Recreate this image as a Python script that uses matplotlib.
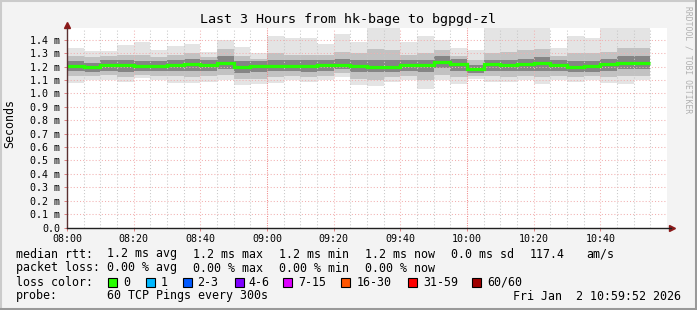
import matplotlib
matplotlib.use("Agg")
import matplotlib.pyplot as plt
from matplotlib.lines import Line2D
from matplotlib.patches import Rectangle
import numpy as np

# 5 minute bins starting 08:00 (x in minutes after 08:00)
bin_start = np.arange(0, 175, 5)
bin_width = 5

median = [1.207, 1.200, 1.215, 1.215, 1.207, 1.207, 1.215, 1.222, 1.215, 1.230, 1.200, 1.207,
          1.207, 1.207, 1.207, 1.215, 1.215, 1.207, 1.200, 1.200, 1.215, 1.215, 1.237, 1.222,
          1.185, 1.222, 1.215, 1.222, 1.230, 1.215, 1.200, 1.207, 1.222, 1.230, 1.230]
ping_max = [1.34, 1.318, 1.318, 1.362, 1.38, 1.325, 1.355, 1.37, 1.307, 1.40, 1.348, 1.302,
            1.425, 1.413, 1.413, 1.37, 1.445, 1.38, 1.55, 1.55, 1.385, 1.43, 1.40, 1.337,
            1.32, 1.55, 1.55, 1.55, 1.55, 1.342, 1.43, 1.413, 1.55, 1.55, 1.55]
ping_min = [1.08, 1.10, 1.10, 1.088, 1.112, 1.10, 1.08, 1.08, 1.088, 1.10, 1.062, 1.07,
            1.08, 1.10, 1.088, 1.10, 1.125, 1.062, 1.055, 1.088, 1.10, 1.03, 1.10, 1.07,
            1.11, 1.088, 1.088, 1.10, 1.07, 1.10, 1.088, 1.10, 1.08, 1.07, 1.10]
p90 = [1.28, 1.27, 1.28, 1.29, 1.29, 1.27, 1.29, 1.30, 1.27, 1.33, 1.28, 1.26,
       1.30, 1.29, 1.29, 1.29, 1.31, 1.30, 1.33, 1.32, 1.29, 1.30, 1.32, 1.28,
       1.25, 1.30, 1.31, 1.32, 1.33, 1.28, 1.30, 1.30, 1.31, 1.34, 1.34]
p75 = [1.24, 1.23, 1.25, 1.25, 1.24, 1.24, 1.25, 1.26, 1.25, 1.28, 1.24, 1.24,
       1.25, 1.25, 1.25, 1.25, 1.26, 1.25, 1.25, 1.25, 1.25, 1.25, 1.28, 1.26,
       1.21, 1.25, 1.25, 1.26, 1.27, 1.25, 1.24, 1.24, 1.26, 1.28, 1.28]
p25 = [1.17, 1.16, 1.17, 1.16, 1.17, 1.17, 1.17, 1.17, 1.17, 1.18, 1.15, 1.16,
       1.17, 1.17, 1.16, 1.17, 1.18, 1.16, 1.16, 1.16, 1.17, 1.16, 1.19, 1.17,
       1.15, 1.17, 1.17, 1.17, 1.17, 1.17, 1.16, 1.16, 1.17, 1.18, 1.18]
p10 = [1.13, 1.13, 1.14, 1.12, 1.14, 1.13, 1.13, 1.12, 1.13, 1.14, 1.11, 1.11,
       1.12, 1.13, 1.12, 1.13, 1.15, 1.11, 1.10, 1.12, 1.13, 1.10, 1.14, 1.12,
       1.13, 1.13, 1.12, 1.13, 1.12, 1.13, 1.12, 1.13, 1.12, 1.13, 1.13]

x_ticks = [0, 20, 40, 60, 80, 100, 120, 140, 160]
x_labels = ["08:00", "08:20", "08:40", "09:00", "09:20", "09:40", "10:00", "10:20", "10:40"]
y_ticks = [0.0, 0.1, 0.2, 0.3, 0.4, 0.5, 0.6, 0.7, 0.8, 0.9, 1.0, 1.1, 1.2, 1.3, 1.4]
y_labels = ["0.0"] + ["%.1f m" % v for v in y_ticks[1:]]

loss_labels = ["0", "1", "2-3", "4-6", "7-15", "16-30", "31-59", "60/60"]
loss_colors = ["#26ff00", "#00b8ff", "#0059ff", "#7e00ff", "#dd00ff", "#ff5500", "#ff0000", "#a00000"]
loss_box_x = [108, 146, 183, 235, 283, 341, 408, 472]
loss_text_x = [123, 161, 197, 248, 298, 357, 423, 487]

W, H = 697, 310
BG = "#f3f3f3"
MONO = "DejaVu Sans Mono"

fig = plt.figure(figsize=(W / 100, H / 100), dpi=100, facecolor=BG)
L, R, T, B = 67, 667, 27.7, 227.5
ax = fig.add_axes([L / W, 1 - B / H, (R - L) / W, (B - T) / H])
ax.set_facecolor("white")
ax.set_xlim(0, 180)
ax.set_ylim(0, 1.49)

# smoke bands (outer -> inner)
ax.bar(bin_start, np.array(ping_max) - np.array(ping_min), bottom=ping_min, width=bin_width,
       align="edge", color="#e4e4e4", linewidth=0, zorder=2)
ax.bar(bin_start, np.array(p90) - np.array(p10), bottom=p10, width=bin_width,
       align="edge", color="#c2c2c2", linewidth=0, zorder=2)
ax.bar(bin_start, np.array(p75) - np.array(p25), bottom=p25, width=bin_width,
       align="edge", color="#858585", linewidth=0, zorder=2)
ax.stairs(median, np.append(bin_start, bin_start[-1] + bin_width), baseline=None,
          color="#26ff00", linewidth=2.3, zorder=4)

# grid
for m in range(5, 180, 5):
    if m % 20:
        ax.axvline(m, color="#c8c8c8", lw=0.75, ls=(0, (1, 2)), zorder=3)
for m in x_ticks[1:]:
    strong = m % 60 == 0
    ax.axvline(m, color="#f08a8a" if strong else "#f2b4b4", lw=0.75,
               ls=(0, (1, 1.2)) if strong else (0, (1, 2)), zorder=3)
for v in y_ticks[1:]:
    ax.axhline(v, color="#f2b0b0", lw=0.75, ls=(0, (1, 2)), zorder=3)

for s in ax.spines.values():
    s.set_visible(False)
ax.set_xticks(x_ticks)
ax.set_xticklabels(x_labels, family=MONO, fontsize=7.2)
ax.set_yticks(y_ticks)
ax.set_yticklabels(y_labels, family=MONO, fontsize=7.2)
ax.tick_params(length=2, width=0.7, color="#e08080", pad=3)

# axes with arrows
ax.plot([0, 0], [0, 1.0], transform=ax.transAxes, color="#5a3030", lw=1.0, clip_on=False, zorder=5)
ax.plot([0, 1.006], [0, 0], transform=ax.transAxes, color="#202020", lw=1.0, clip_on=False, zorder=5)
ax.plot([0], [1.015], transform=ax.transAxes, marker="^", ms=4.5, color="#8b1a1a", clip_on=False)
ax.plot([1.008], [0], transform=ax.transAxes, marker=">", ms=4.5, color="#8b1a1a", clip_on=False)

def ftext(x, y, s, **kw):
    kw.setdefault("family", MONO)
    kw.setdefault("fontsize", 8.4)
    kw.setdefault("va", "center")
    fig.text(x / W, 1 - y / H, s, **kw)

ftext(348, 19, "Last 3 Hours from hk-bage to bgpgd-zl", fontsize=9.6, ha="center")
ftext(10, 123, "Seconds", rotation=90, ha="center")
ftext(688, 60, "RRDTOOL / TOBI OETIKER", rotation=270, ha="center", fontsize=5.8, color="#b0b0b0")

row1 = [(16, "median rtt:"), (107, "1.2 ms avg"), (193, "1.2 ms max"), (279, "1.2 ms min"),
        (365, "1.2 ms now"), (451, "0.0 ms sd"), (530, "117.4"), (586, "am/s")]
row2 = [(16, "packet loss:"), (107, "0.00 % avg"), (193, "0.00 % max"),
        (279, "0.00 % min"), (365, "0.00 % now")]
for x, s in row1:
    ftext(x, 254, s)
for x, s in row2:
    ftext(x, 268, s)
ftext(16, 282, "loss color:")
for bx, tx, lab, col in zip(loss_box_x, loss_text_x, loss_labels, loss_colors):
    fig.add_artist(Rectangle((bx / W, 1 - 286.5 / H), 9 / W, 9 / H, transform=fig.transFigure,
                             facecolor=col, edgecolor="black", lw=0.8))
    ftext(tx, 282, lab)
ftext(16, 296, "probe:")
ftext(107, 296, "60 TCP Pings every 300s")
ftext(681, 296, "Fri Jan  2 10:59:52 2026", ha="right")

# 3d frame
fig.add_artist(Line2D([0, 1], [1 - 0.5 / H, 1 - 0.5 / H], color="#cbcbcb", lw=1.5, transform=fig.transFigure))
fig.add_artist(Line2D([0.5 / W, 0.5 / W], [0, 1], color="#cbcbcb", lw=1.5, transform=fig.transFigure))
fig.add_artist(Line2D([0, 1], [1.5 / H, 1.5 / H], color="#999999", lw=2.2, transform=fig.transFigure))
fig.add_artist(Line2D([1 - 1.5 / W, 1 - 1.5 / W], [0, 1], color="#999999", lw=2.2, transform=fig.transFigure))

fig.savefig("out.png", dpi=100, facecolor=BG)
